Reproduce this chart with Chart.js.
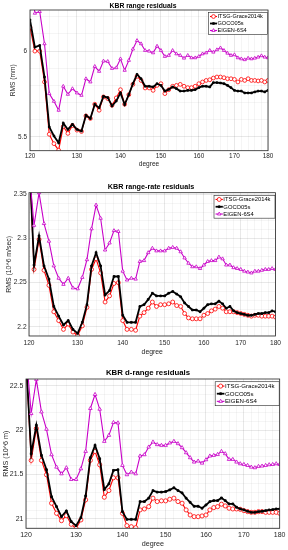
<!DOCTYPE html>
<html>
<head>
<meta charset="utf-8">
<script src="https://cdn.jsdelivr.net/npm/chart.js@4.4.0/dist/chart.umd.min.js"></script>
<style>
html, body { margin: 0; padding: 0; background: #fff; }
body { width: 288px; height: 550px; position: relative; overflow: hidden; }
canvas { position: absolute; left: 0; }
</style>
</head>
<body>
<canvas id="c1" width="288" height="172" style="top:0px"></canvas>
<canvas id="c2" width="288" height="180" style="top:180px"></canvas>
<canvas id="c3" width="288" height="187" style="top:363px"></canvas>
<script>
// degree axis
const degrees = [120, 121, 122, 123, 124, 125, 126, 127, 128, 129,
                 130, 131, 132, 133, 134, 135, 136, 137, 138, 139,
                 140, 141, 142, 143, 144, 145, 146, 147, 148, 149,
                 150, 151, 152, 153, 154, 155, 156, 157, 158, 159,
                 160, 161, 162, 163, 164, 165, 166, 167, 168, 169,
                 170, 171, 172, 173, 174, 175, 176, 177, 178, 179, 180];
const xTicks = [120, 130, 140, 150, 160, 170, 180];
const seriesNames = ['ITSG-Grace2014k', 'GOCO05s', 'EIGEN-6S4'];

// KBR range residuals (mm)
const rangeITSG = [6.14, 6.00, 6.00, 5.82, 5.515, 5.46, 5.422, 5.56, 5.52, 5.566,
                   5.539, 5.531, 5.622, 5.607, 5.69, 5.655, 5.733, 5.723, 5.684, 5.727,
                   5.775, 5.69, 5.746, 5.806, 5.853, 5.829, 5.785, 5.785, 5.771, 5.80,
                   5.81, 5.752, 5.775, 5.795, 5.80, 5.806, 5.795, 5.787, 5.787, 5.795,
                   5.81, 5.82, 5.829, 5.833, 5.843, 5.849, 5.849, 5.845, 5.839, 5.839,
                   5.835, 5.82, 5.835, 5.829, 5.839, 5.829, 5.829, 5.826, 5.829, 5.82, 5.829];
const rangeGOCO = [6.182, 6.023, 6.033, 5.849, 5.558, 5.505, 5.465, 5.58, 5.543, 5.573,
                   5.543, 5.534, 5.626, 5.607, 5.69, 5.669, 5.736, 5.729, 5.68, 5.709,
                   5.756, 5.688, 5.746, 5.81, 5.864, 5.839, 5.795, 5.795, 5.791, 5.81,
                   5.80, 5.767, 5.777, 5.791, 5.781, 5.767, 5.767, 5.771, 5.771, 5.775,
                   5.787, 5.795, 5.795, 5.791, 5.816, 5.816, 5.814, 5.81, 5.80, 5.787,
                   5.771, 5.767, 5.767, 5.756, 5.756, 5.756, 5.762, 5.767, 5.767, 5.762, 5.771];
const rangeEIGEN = [6.45, 6.221, 6.231, 6.043, 5.752, 5.707, 5.655, 5.795, 5.748, 5.781,
                    5.756, 5.742, 5.839, 5.82, 5.911, 5.882, 5.942, 5.94, 5.899, 5.903,
                    5.955, 5.888, 5.946, 6.012, 6.062, 6.043, 6.004, 6.0, 5.99, 6.029,
                    6.004, 5.969, 5.975, 6.004, 5.984, 5.975, 5.959, 5.975, 5.961, 5.961,
                    5.969, 5.984, 5.99, 6.004, 5.994, 6.008, 6.019, 6.004, 5.988, 5.975,
                    5.979, 5.961, 5.955, 5.95, 5.959, 5.955, 5.959, 5.965, 5.973, 5.965, 5.961];
const rangeTicks = [5.5, 6];

// KBR range-rate residuals (10^-6 m/sec)
const rateITSG = [2.40, 2.265, 2.299, 2.264, 2.247, 2.217, 2.207, 2.197, 2.203, 2.194,
                  2.190, 2.201, 2.222, 2.265, 2.277, 2.261, 2.228, 2.235, 2.249, 2.250,
                  2.207, 2.197, 2.197, 2.196, 2.212, 2.216, 2.221, 2.228, 2.223, 2.225,
                  2.225, 2.226, 2.228, 2.224, 2.223, 2.215, 2.210, 2.209, 2.209, 2.209,
                  2.213, 2.215, 2.218, 2.220, 2.223, 2.221, 2.217, 2.217, 2.217, 2.216,
                  2.215, 2.214, 2.213, 2.212, 2.213, 2.213, 2.212, 2.212, 2.212, 2.212, 2.211];
const rateGOCO = [2.40, 2.270, 2.303, 2.269, 2.254, 2.223, 2.212, 2.202, 2.207, 2.197,
                  2.1925, 2.205, 2.225, 2.269, 2.284, 2.269, 2.236, 2.241, 2.257, 2.257,
                  2.213, 2.205, 2.205, 2.205, 2.223, 2.225, 2.231, 2.238, 2.235, 2.235,
                  2.235, 2.238, 2.240, 2.237, 2.234, 2.227, 2.223, 2.219, 2.219, 2.217,
                  2.221, 2.225, 2.226, 2.226, 2.229, 2.226, 2.221, 2.223, 2.218, 2.216,
                  2.215, 2.214, 2.213, 2.213, 2.214, 2.215, 2.215, 2.216, 2.216, 2.218, 2.217];
const rateEIGEN = [2.38, 2.315, 2.352, 2.317, 2.297, 2.269, 2.255, 2.248, 2.255, 2.244,
                   2.243, 2.256, 2.276, 2.311, 2.338, 2.323, 2.287, 2.295, 2.309, 2.308,
                   2.263, 2.253, 2.255, 2.254, 2.274, 2.275, 2.284, 2.289, 2.286, 2.286,
                   2.286, 2.289, 2.290, 2.289, 2.285, 2.278, 2.272, 2.268, 2.268, 2.266,
                   2.270, 2.274, 2.275, 2.275, 2.279, 2.277, 2.270, 2.270, 2.267, 2.266,
                   2.265, 2.263, 2.262, 2.261, 2.263, 2.263, 2.264, 2.265, 2.265, 2.266, 2.265];
const rateTicks = [2.2, 2.25, 2.3, 2.35];

// KBR d-range residuals (10^-6 m)
const drangeITSG = [22.8, 21.66, 22.018, 21.66, 21.498, 21.177, 21.064, 20.981, 21.038, 20.94,
                    20.894, 20.989, 21.215, 21.66, 21.76, 21.61, 21.245, 21.32, 21.464, 21.464,
                    21.064, 20.925, 20.913, 20.902, 21.102, 21.113, 21.139, 21.234, 21.196, 21.204,
                    21.204, 21.222, 21.234, 21.196, 21.177, 21.102, 21.045, 21.026, 21.026, 21.034,
                    21.045, 21.102, 21.128, 21.139, 21.166, 21.147, 21.121, 21.113, 21.113, 21.109,
                    21.094, 21.083, 21.075, 21.075, 21.083, 21.083, 21.075, 21.075, 21.075, 21.075, 21.064];
const drangeGOCO = [22.8, 21.735, 22.055, 21.716, 21.554, 21.25, 21.139, 21.026, 21.09, 20.97,
                    20.925, 21.015, 21.26, 21.69, 21.829, 21.678, 21.332, 21.396, 21.547, 21.554,
                    21.083, 20.996, 20.996, 20.996, 21.196, 21.196, 21.234, 21.32, 21.302, 21.302,
                    21.309, 21.328, 21.351, 21.32, 21.294, 21.234, 21.188, 21.143, 21.143, 21.121,
                    21.158, 21.196, 21.207, 21.207, 21.237, 21.207, 21.17, 21.17, 21.132, 21.113,
                    21.102, 21.087, 21.075, 21.075, 21.083, 21.087, 21.094, 21.102, 21.106, 21.113, 21.113];
const drangeEIGEN = [22.9, 22.187, 22.572, 22.206, 22.01, 21.724, 21.584, 21.509, 21.577, 21.445,
                     21.445, 21.565, 21.761, 22.244, 22.402, 22.236, 21.874, 21.942, 22.086, 22.082,
                     21.603, 21.498, 21.528, 21.509, 21.709, 21.724, 21.81, 21.867, 21.837, 21.829,
                     21.829, 21.856, 21.874, 21.848, 21.803, 21.746, 21.69, 21.641, 21.652, 21.629,
                     21.667, 21.709, 21.716, 21.727, 21.761, 21.735, 21.671, 21.671, 21.641, 21.622,
                     21.614, 21.603, 21.584, 21.577, 21.592, 21.596, 21.603, 21.611, 21.614, 21.622, 21.614];
const drangeTicks = [21, 21.5, 22, 22.5];

Chart.defaults.font.family = "'Liberation Sans', Arial, sans-serif";
Chart.defaults.color = '#262626';

const RED = '#ff0000', BLACK = '#000000', MAGENTA = '#c800c8';
const GRID_MAJOR = 'rgba(0,0,0,0.13)', GRID_MINOR = 'rgba(0,0,0,0.06)';

// frame, title and inside legend (MATLAB style)
const decor = {
    id: 'decor',
    afterDraw(chart, args, o) {
        const ctx = chart.ctx;
        const a = chart.chartArea;
        const s = o.s;
        ctx.save();
        ctx.strokeStyle = '#262626';
        ctx.lineWidth = 0.8;
        ctx.strokeRect(a.left, a.top, a.right - a.left, a.bottom - a.top);

        ctx.fillStyle = '#000';
        ctx.font = 'bold ' + o.titleSize + 'px ' + Chart.defaults.font.family;
        ctx.textAlign = 'center';
        ctx.textBaseline = 'middle';
        ctx.fillText(o.title, o.titleX, o.titleY);

        // legend
        const w = o.legW, h = 22 * s;
        const x0 = a.right - w - 0.5, y0 = a.top + 2.5 * s;
        ctx.fillStyle = '#fff';
        ctx.fillRect(x0, y0, w, h);
        ctx.strokeStyle = '#262626';
        ctx.lineWidth = 0.6;
        ctx.strokeRect(x0, y0, w, h);
        ctx.font = (5.6 * s) + 'px ' + Chart.defaults.font.family;
        ctx.textAlign = 'left';
        chart.data.datasets.forEach((ds, i) => {
            const yy = y0 + 4 * s + i * 7 * s;
            ctx.strokeStyle = ds.borderColor;
            ctx.lineWidth = ds.borderWidth;
            ctx.beginPath();
            ctx.moveTo(x0 + 1.5 * s, yy);
            ctx.lineTo(x0 + 8.5 * s, yy);
            ctx.stroke();
            ctx.fillStyle = ds.pointBackgroundColor;
            ctx.strokeStyle = ds.pointBorderColor;
            ctx.lineWidth = ds.pointBorderWidth;
            Chart.helpers.drawPoint(ctx, {
                pointStyle: ds.pointStyle, radius: ds.pointRadius, rotation: 0,
                borderWidth: ds.pointBorderWidth
            }, x0 + 5 * s, yy);
            ctx.fillStyle = '#000';
            ctx.fillText(ds.label, x0 + 9 * s, yy + 0.3);
        });
        ctx.restore();
    }
};

function isMajor(v, list) {
    return list.some(m => Math.abs(m - v) < 1e-7);
}

function makePanel(id, p) {
    const s = p.s;
    const pts = vals => degrees.map((d, i) => ({ x: d, y: vals[i] }));
    const series = [
        { vals: p.itsg, color: RED, style: 'circle', r: 1.9 * s, bw: 1.1, pbw: 0.8, order: 3, fill: '#fff' },
        { vals: p.goco, color: BLACK, style: 'rect', r: 1.2 * s, bw: 1.8, pbw: 0.8, order: 2, fill: BLACK },
        { vals: p.eigen, color: MAGENTA, style: 'triangle', r: 1.9 * s, bw: 1.1, pbw: 0.8, order: 1, fill: '#fff' }
    ];
    new Chart(document.getElementById(id), {
        type: 'line',
        data: {
            datasets: series.map((q, i) => ({
                label: seriesNames[i],
                data: pts(q.vals),
                borderColor: q.color,
                backgroundColor: q.fill,
                pointBackgroundColor: q.fill,
                pointBorderColor: q.color,
                pointStyle: q.style,
                pointRadius: q.r,
                pointBorderWidth: q.pbw,
                borderWidth: q.bw,
                tension: 0,
                order: q.order
            }))
        },
        options: {
            responsive: false,
            animation: false,
            layout: { padding: { top: p.top, right: p.right, left: 0, bottom: 0 } },
            scales: {
                x: {
                    type: 'logarithmic',
                    min: 120,
                    max: 180,
                    afterFit: sc => { sc.height = p.xH; },
                    afterBuildTicks: sc => {
                        const t = [];
                        for (let v = 120; v <= 180; v += 2) t.push({ value: v });
                        sc.ticks = t;
                    },
                    ticks: {
                        autoSkip: false,
                        maxRotation: 0,
                        padding: p.xPad,
                        font: { size: 6.4 * s },
                        callback: v => xTicks.includes(v) ? String(v) : ''
                    },
                    grid: {
                        drawTicks: false,
                        lineWidth: 0.7,
                        color: c => xTicks.includes(c.tick.value) ? GRID_MAJOR : GRID_MINOR
                    },
                    border: { display: false },
                    title: {
                        display: true, text: 'degree', color: '#262626',
                        font: { size: 6.6 * s }, padding: { top: 0, bottom: p.xTitlePad }
                    }
                },
                y: {
                    min: p.yMin,
                    max: p.yMax,
                    afterFit: sc => { sc.width = p.left; },
                    afterBuildTicks: sc => {
                        const t = [];
                        const k0 = Math.ceil(p.yMin / p.minor - 1e-6), k1 = Math.floor(p.yMax / p.minor + 1e-6);
                        for (let k = k0; k <= k1; k++) t.push({ value: Math.round(k * p.minor * 1000) / 1000 });
                        sc.ticks = t;
                    },
                    ticks: {
                        autoSkip: false,
                        padding: p.yPad,
                        font: { size: 6.4 * s },
                        callback: v => isMajor(v, p.yTicks) ? String(v) : ''
                    },
                    grid: {
                        drawTicks: false,
                        lineWidth: 0.7,
                        color: c => isMajor(c.tick.value, p.yTicks) ? GRID_MAJOR : GRID_MINOR
                    },
                    border: { display: false },
                    title: {
                        display: true, text: p.yLabel, color: '#262626',
                        font: { size: 6.6 * s }, padding: { top: p.yTitlePad, bottom: 0 }
                    }
                }
            },
            plugins: {
                legend: { display: false },
                tooltip: { enabled: false },
                decor: { s: s, title: p.title, titleSize: p.titleSize, titleX: p.titleX, titleY: p.titleY, legW: p.legW }
            }
        },
        plugins: [decor]
    });
}

makePanel('c1', {
    s: 1, itsg: rangeITSG, goco: rangeGOCO, eigen: rangeEIGEN,
    yMin: 5.419, yMax: 6.24, minor: 0.1, yTicks: rangeTicks, yLabel: 'RMS (mm)',
    title: 'KBR range residuals', titleSize: 6.8, titleX: 143, titleY: 5.8,
    top: 10, right: 20, left: 30, xH: 21.3, xPad: 2, xTitlePad: 3.6, yPad: 3, yTitlePad: 8.9, legW: 59
});
makePanel('c2', {
    s: 1.04, itsg: rateITSG, goco: rateGOCO, eigen: rateEIGEN,
    yMin: 2.1895, yMax: 2.352, minor: 0.01, yTicks: rateTicks, yLabel: 'RMS (10^6 m/sec)',
    title: 'KBR range-rate residuals', titleSize: 7.2, titleX: 151, titleY: 6.6,
    top: 12.7, right: 12.5, left: 29, xH: 24, xPad: 3, xTitlePad: 4.1, yPad: 2.4, yTitlePad: 5.2, legW: 61
});
makePanel('c3', {
    s: 1.09, itsg: drangeITSG, goco: drangeGOCO, eigen: drangeEIGEN,
    yMin: 20.895, yMax: 22.576, minor: 0.1, yTicks: drangeTicks, yLabel: 'RMS (10^6 m)',
    title: 'KBR d-range residuals', titleSize: 7.8, titleX: 148, titleY: 10.3,
    top: 16, right: 7, left: 26, xH: 21.7, xPad: 2.5, xTitlePad: 1.5, yPad: 2.6, yTitlePad: 1.8, legW: 64
});
</script>
</body>
</html>
